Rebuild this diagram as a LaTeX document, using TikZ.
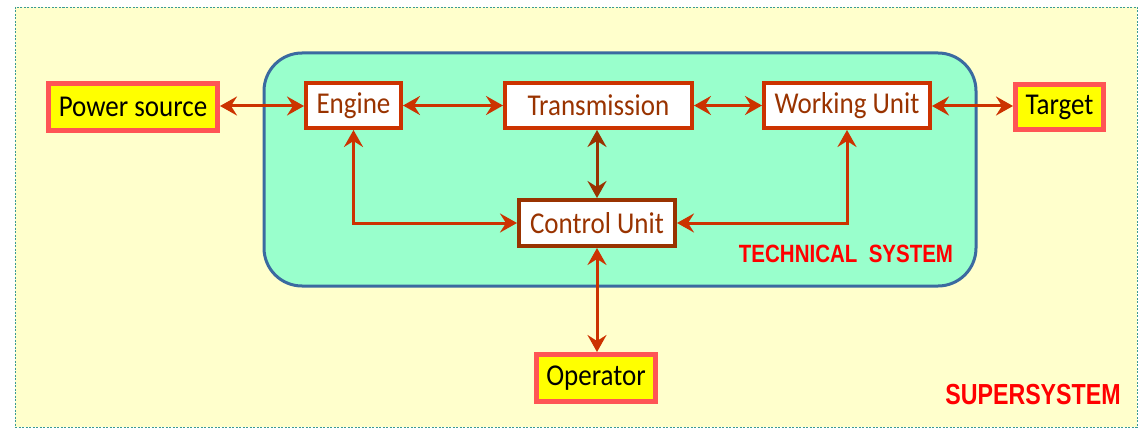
\documentclass[tikz,border=0pt]{standalone}
\usepackage{fontspec}
\setmainfont{Carlito}
\newfontfamily\headfont{Liberation Sans}[BoldFont={* Bold}]
\usetikzlibrary{arrows.meta}
\definecolor{superbg}{HTML}{FFFFCC}
\definecolor{superedge}{HTML}{3A9A96}
\definecolor{techbg}{HTML}{99FFCC}
\definecolor{techedge}{HTML}{3B6AA0}
\definecolor{linkred}{HTML}{CC3300}
\definecolor{darkbrown}{HTML}{993300}
\definecolor{outerfill}{HTML}{FFFF00}
\definecolor{outeredge}{HTML}{FF5555}
\definecolor{labelred}{HTML}{FF0000}
% block text is set slightly taller than the font's natural shape
\newcommand\blocktext[1]{\scalebox{1}[1.12]{#1}}
\tikzset{
  unitbox/.style={draw=linkred, line width=4pt, fill=white, text=darkbrown,
    font=\fontsize{27}{31}\selectfont, inner sep=0pt},
  extbox/.style={draw=outeredge, line width=5pt, fill=outerfill, text=black,
    font=\fontsize{27}{31}\selectfont, inner sep=0pt},
  link/.style={draw=linkred, line width=3pt,
    {Stealth[length=17pt, width=19pt, inset=6pt]}-{Stealth[length=17pt, width=19pt, inset=6pt]}},
  caption/.style={text=labelred, font=\headfont\bfseries},
}
\begin{document}
\begin{tikzpicture}[x=1pt, y=-1pt]
\useasboundingbox (0,0) rectangle (1140,433);
% supersystem frame
\draw[superedge, fill=superbg, line width=0.8pt, dash pattern=on 2pt off 1.5pt]
  (15,7) rectangle (1137,427);
% technical system
\draw[techedge, fill=techbg, line width=3pt, rounded corners=38pt]
  (264,53) rectangle (976,286);

% blocks
\node[extbox, minimum width=169pt, minimum height=47pt] (power) at (133,107) {\blocktext{Power source}};
\node[unitbox, minimum width=95pt, minimum height=45pt] (engine) at (353.5,105.5) {\blocktext{Engine}};
\node[unitbox, minimum width=187pt, minimum height=45pt] (trans) at (598.5,105.5) {\blocktext{Transmission}};
\node[unitbox, minimum width=166pt, minimum height=45pt] (work) at (847,105.5) {\blocktext{Working Unit}};
\node[extbox, minimum width=88pt, minimum height=45pt] (target) at (1059.5,107) {\blocktext{Target}};
\node[unitbox, draw=darkbrown, minimum width=156pt, minimum height=46pt] (control) at (597,223) {\blocktext{Control Unit}};
\node[extbox, minimum width=119pt, minimum height=47pt] (operator) at (596,378) {\blocktext{Operator}};

% labels
\node[caption] (techlabel) at (846,254)
  {\scalebox{0.82}[1]{\fontsize{25}{28}\selectfont TECHNICAL\ \ SYSTEM}};
\node[caption] (superlabel) at (1033,395)
  {\scalebox{0.8}[1]{\fontsize{29}{32}\selectfont SUPERSYSTEM}};

% connectors
\draw[link] (power.east |- 0,106) -- (engine.west |- 0,106);
\draw[link] (engine) -- (trans);
\draw[link] (trans) -- (work);
\draw[link] (work.east |- 0,106) -- (target.west |- 0,106);
\draw[link] (engine.south) |- (control.west);
\draw[link] (work.south) |- (control.east);
\draw[link, draw=darkbrown] (trans.south -| control.north) -- (control.north);
\draw[link] (control.south) -- (control.south |- operator.north);
\end{tikzpicture}
\end{document}
